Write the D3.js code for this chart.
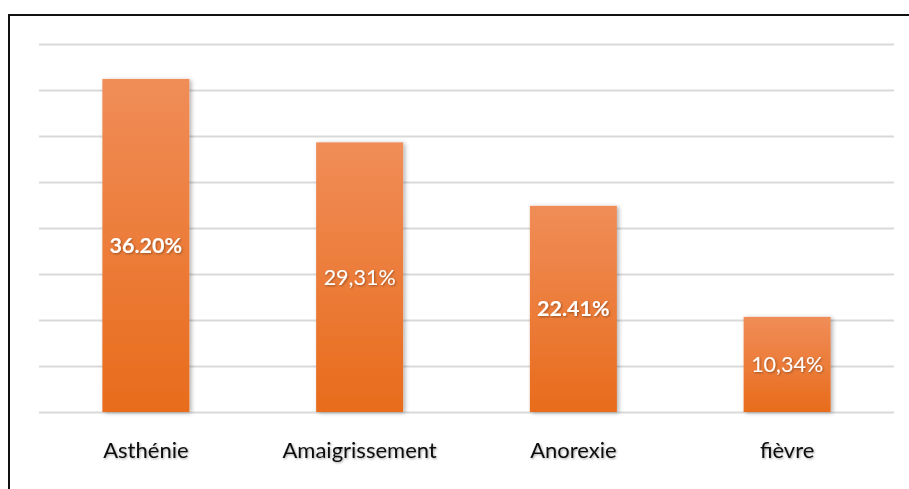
<!DOCTYPE html>
<html>
<head>
<meta charset="utf-8">
<script src="https://cdn.jsdelivr.net/npm/d3@7"></script>
<style>
  html, body { margin: 0; padding: 0; background: #fff; }
  svg { display: block; }
  text { font-family: Lato, "Open Sans", sans-serif; }
</style>
</head>
<body>
<svg id="chart" width="909" height="489"></svg>
<script>
// Symptom frequencies (%)
const categories = ["Asthénie", "Amaigrissement", "Anorexie", "fièvre"];
const values = [36.20, 29.31, 22.41, 10.34];
const valueLabels = ["36.20%", "29,31%", "22.41%", "10,34%"];
const boldLabel = [true, false, true, false];
const gridTicks = [0, 5, 10, 15, 20, 25, 30, 35, 40];

const svg = d3.select("#chart");
const W = 909, H = 489;
const m = { left: 39, right: 15, top: 44, bottom: 77 };

const defs = svg.append("defs");
const grad = defs.append("linearGradient")
  .attr("id", "barFill").attr("x1", 0).attr("y1", 0).attr("x2", 0).attr("y2", 1);
grad.append("stop").attr("offset", "0%").attr("stop-color", "#f08d58");
grad.append("stop").attr("offset", "100%").attr("stop-color", "#e86c1c");

const shadow = defs.append("filter").attr("id", "barShadow")
  .attr("x", "-20%").attr("y", "-10%").attr("width", "150%").attr("height", "120%");
shadow.append("feDropShadow").attr("dx", 2).attr("dy", 1)
  .attr("stdDeviation", 2).attr("flood-color", "#000").attr("flood-opacity", 0.3);

const txtShadow = defs.append("filter").attr("id", "textShadow")
  .attr("x", "-10%").attr("y", "-20%").attr("width", "130%").attr("height", "150%");
txtShadow.append("feDropShadow").attr("dx", 1).attr("dy", 1)
  .attr("stdDeviation", 0.8).attr("flood-color", "#000").attr("flood-opacity", 0.35);

// Outer frame
svg.append("rect")
  .attr("x", 9).attr("y", 15).attr("width", W + 10).attr("height", H + 10)
  .attr("fill", "none").attr("stroke", "#111").attr("stroke-width", 2);

const x = d3.scaleBand()
  .domain(categories)
  .range([m.left, W - m.right])
  .paddingInner(0.593)
  .paddingOuter(0.2965);

const y = d3.scaleLinear()
  .domain([0, 40])
  .range([H - m.bottom, m.top]);

// Horizontal gridlines
svg.append("g")
  .attr("transform", `translate(${m.left},0)`)
  .call(d3.axisLeft(y).tickValues(gridTicks).tickSize(-(W - m.right - m.left)).tickFormat(""))
  .call(g => g.select(".domain").remove())
  .call(g => g.selectAll(".tick line").attr("stroke", "#d9d9d9").attr("stroke-width", 2));

// Bars
svg.append("g").selectAll("rect")
  .data(values)
  .join("rect")
  .attr("x", (d, i) => x(categories[i]))
  .attr("y", d => y(d))
  .attr("width", x.bandwidth())
  .attr("height", d => y(0) - y(d))
  .attr("fill", "url(#barFill)")
  .attr("filter", "url(#barShadow)");

// Value labels
svg.append("g").selectAll("text")
  .data(values)
  .join("text")
  .attr("x", (d, i) => x(categories[i]) + x.bandwidth() / 2)
  .attr("y", d => (y(d) + y(0)) / 2)
  .attr("dy", "0.35em")
  .attr("text-anchor", "middle")
  .attr("fill", "#fff")
  .attr("font-size", 21.5)
  .attr("font-weight", (d, i) => boldLabel[i] ? "bold" : "normal")
  .attr("filter", "url(#textShadow)")
  .text((d, i) => valueLabels[i]);

// Category axis labels
svg.append("g")
  .attr("transform", `translate(0,${y(0)})`)
  .call(d3.axisBottom(x).tickSize(0).tickPadding(30))
  .call(g => g.select(".domain").remove())
  .call(g => g.selectAll(".tick text")
    .attr("font-family", "Lato, 'Open Sans', sans-serif")
    .attr("font-size", 22)
    .attr("fill", "#111")
    .attr("filter", "url(#textShadow)"));
</script>
</body>
</html>
